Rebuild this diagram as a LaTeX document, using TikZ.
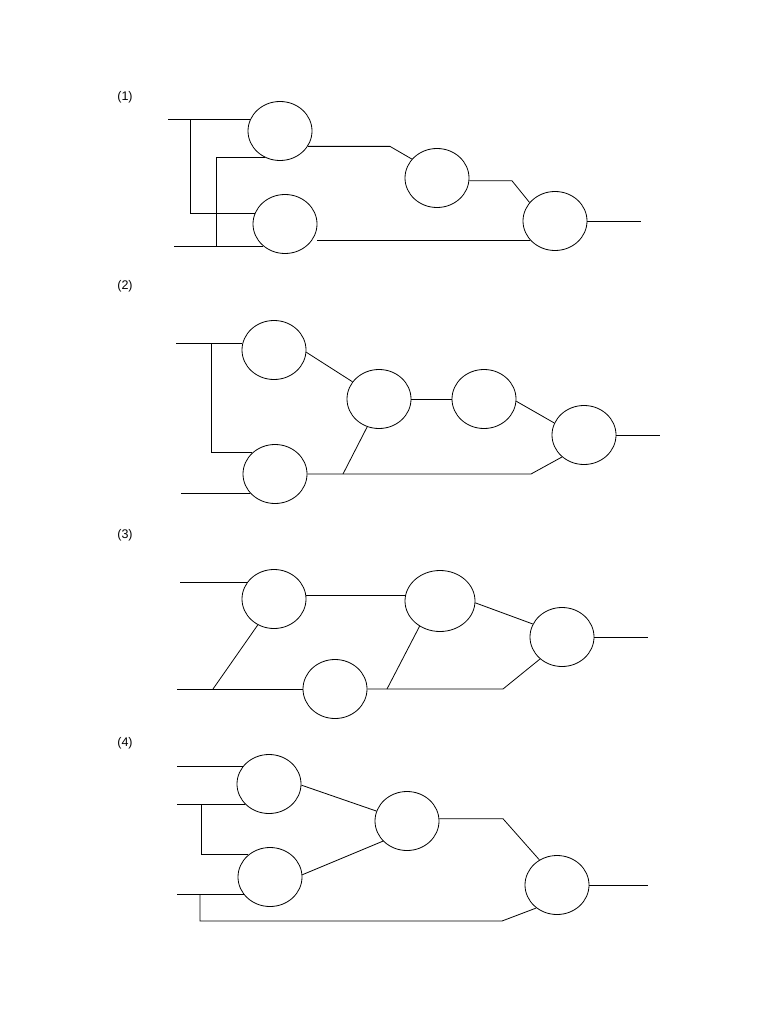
\documentclass[tikz,border=0pt]{standalone}
\usepackage{fontspec}
\setmainfont{Liberation Sans}
\usetikzlibrary{shapes.geometric}
\tikzset{
  unit/.style={draw, ellipse, minimum width=64pt, minimum height=59pt, inner sep=0pt, line width=0.8pt},
  wire/.style={line width=0.8pt},
  tag/.style={font=\fontsize{12.5}{15}\selectfont, inner sep=0pt}
}

\begin{document}
\begin{tikzpicture}[x=1pt, y=-1pt]
	%%%%% START %%%%%
	\useasboundingbox (0,0) rectangle (768,1024);

	%%%%% (1) %%%%%
	\node[tag] (t1) at (125,97) {(1)};
	\node[unit] (A1) at (280,131) {};
	\node[unit] (B1) at (285,224) {};
	\node[unit] (C1) at (437,178) {};
	\node[unit] (D1) at (555,221) {};
	\coordinate (in1a) at (168,0 |- A1.158);
	\coordinate (in1b) at (174,0 |- B1.226);
	\coordinate (j1a) at (190,0 |- A1.158);
	\coordinate (j1b) at (216,0 |- B1.226);
	\coordinate (k1a) at (390,0 |- A1.331);
	\coordinate (k1b) at (512,0 |- C1.355);
	\coordinate (out1) at (641,0 |- D1.east);
	\draw[wire] (in1a) -- (A1.158);
	\draw[wire] (j1a) |- (B1.160);
	\draw[wire] (A1.240) -| (j1b);
	\draw[wire] (in1b) -- (B1.226);
	\draw[wire] (A1.331) -- (k1a) -- (C1.143);
	\draw[wire] (C1.355) -- (k1b) -- (D1.144);
	\draw[wire] (B1.east |- D1.218) -- (D1.218);
	\draw[wire] (D1.east) -- (out1);

	%%%%% (2) %%%%%
	\node[tag] (t2) at (125,286) {(2)};
	\node[unit] (A2) at (274,350) {};
	\node[unit] (B2) at (275,474) {};
	\node[unit] (C2) at (379,399) {};
	\node[unit] (D2) at (484,399) {};
	\node[unit] (E2) at (584,435) {};
	\coordinate (in2a) at (176,0 |- A2.169);
	\coordinate (in2b) at (181,0 |- B2.218);
	\coordinate (j2a) at (211,0 |- A2.169);
	\coordinate (j2b) at (343,0 |- B2.east);
	\coordinate (k2) at (531,0 |- B2.east);
	\coordinate (out2) at (660,0 |- E2.east);
	\draw[wire] (in2a) -- (A2.169);
	\draw[wire] (j2a) |- (B2.137);
	\draw[wire] (in2b) -- (B2.218);
	\draw[wire] (A2.356) -- (C2.147);
	\draw[wire] (C2.east) -- (D2.west);
	\draw[wire] (D2.356) -- (E2.158);
	\draw[wire] (B2.east) -- (k2) -- (E2.225);
	\draw[wire] (j2b) -- (C2.247);
	\draw[wire] (E2.east) -- (out2);

	%%%%% (3) %%%%%
	\node[tag] (t3) at (125,535) {(3)};
	\node[unit] (A3) at (274,599) {};
	\node[unit] (B3) at (335,689) {};
	\node[unit, minimum width=70pt, minimum height=61pt] (C3) at (440,601) {};
	\node[unit] (D3) at (562,637) {};
	\coordinate (in3a) at (180,0 |- A3.149);
	\coordinate (in3b) at (177,0 |- B3.west);
	\coordinate (j3a) at (213,0 |- B3.west);
	\coordinate (j3b) at (387,0 |- B3.east);
	\coordinate (k3) at (503,0 |- B3.east);
	\coordinate (out3) at (648,0 |- D3.east);
	\draw[wire] (in3a) -- (A3.149);
	\draw[wire] (in3b) -- (B3.west);
	\draw[wire] (j3a) -- (A3.238);
	\draw[wire] (A3.7) -- (A3.7 -| C3.west);
	\draw[wire] (B3.east) -- (k3) -- (D3.225);
	\draw[wire] (j3b) -- (C3.231);
	\draw[wire] (C3.357) -- (D3.156);
	\draw[wire] (D3.east) -- (out3);

	%%%%% (4) %%%%%
	\node[tag] (t4) at (125,743) {(4)};
	\node[unit] (A4) at (269,784) {};
	\node[unit] (B4) at (270,877) {};
	\node[unit] (C4) at (407,821) {};
	\node[unit] (D4) at (557,885) {};
	\coordinate (in4a) at (177,0 |- A4.147);
	\coordinate (in4b) at (177,0 |- A4.220);
	\coordinate (in4c) at (177,0 |- B4.213);
	\coordinate (j4a) at (201,0 |- A4.220);
	\coordinate (j4b) at (200,0 |- B4.213);
	\coordinate (j4c) at (200,921);
	\coordinate (k4a) at (503,0 |- C4.4);
	\coordinate (k4b) at (502,921);
	\coordinate (out4) at (648,0 |- D4.east);
	\draw[wire] (in4a) -- (A4.147);
	\draw[wire] (in4b) -- (A4.220);
	\draw[wire] (j4a) |- (B4.134);
	\draw[wire] (in4c) -- (B4.213);
	\draw[wire] (j4b) -- (j4c) -- (k4b) -- (D4.228);
	\draw[wire] (A4.358) -- (C4.162);
	\draw[wire] (B4.4) -- (C4.220);
	\draw[wire] (C4.4) -- (k4a) -- (D4.125);
	\draw[wire] (D4.east) -- (out4);

	%%%%% END %%%%%
\end{tikzpicture}
\end{document}
